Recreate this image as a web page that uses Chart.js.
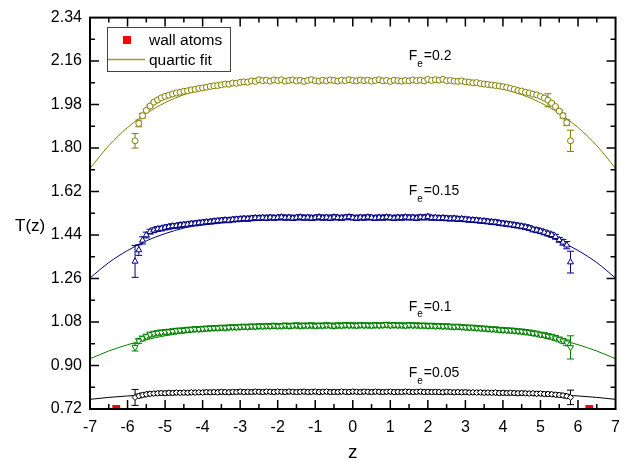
<!DOCTYPE html>
<html><head><meta charset="utf-8">
<script src="https://cdn.jsdelivr.net/npm/chart.js@4.4.1/dist/chart.umd.min.js"></script>
<style>html,body{margin:0;padding:0;background:#fff;}canvas{display:block;}</style>
</head><body>
<canvas id="c" width="629" height="461"></canvas>
<script>
// ---------- data ----------
const zGrid = [
-5.8,-5.7,-5.6,-5.5,-5.4,-5.3,-5.2,-5.1,-5.0,-4.9,
-4.8,-4.7,-4.6,-4.5,-4.4,-4.3,-4.2,-4.1,-4.0,-3.9,
-3.8,-3.7,-3.6,-3.5,-3.4,-3.3,-3.2,-3.1,-3.0,-2.9,
-2.8,-2.7,-2.6,-2.5,-2.4,-2.3,-2.2,-2.1,-2.0,-1.9,
-1.8,-1.7,-1.6,-1.5,-1.4,-1.3,-1.2,-1.1,-1.0,-0.9,
-0.8,-0.7,-0.6,-0.5,-0.4,-0.3,-0.2,-0.1,0.0,0.1,
0.2,0.3,0.4,0.5,0.6,0.7,0.8,0.9,1.0,1.1,
1.2,1.3,1.4,1.5,1.6,1.7,1.8,1.9,2.0,2.1,
2.2,2.3,2.4,2.5,2.6,2.7,2.8,2.9,3.0,3.1,
3.2,3.3,3.4,3.5,3.6,3.7,3.8,3.9,4.0,4.1,
4.2,4.3,4.4,4.5,4.6,4.7,4.8,4.9,5.0,5.1,
5.2,5.3,5.4,5.5,5.6,5.7,5.8];

const T_Fe020 = [
1.830,1.902,1.934,1.956,1.974,1.990,1.999,2.008,2.014,2.019,
2.024,2.028,2.031,2.035,2.037,2.041,2.043,2.047,2.049,2.052,
2.055,2.058,2.059,2.062,2.065,2.064,2.069,2.068,2.072,2.074,
2.073,2.078,2.076,2.083,2.079,2.081,2.077,2.082,2.079,2.083,
2.077,2.080,2.082,2.078,2.081,2.076,2.080,2.083,2.079,2.077,
2.081,2.078,2.082,2.080,2.077,2.081,2.079,2.083,2.080,2.078,
2.082,2.079,2.081,2.077,2.080,2.083,2.078,2.080,2.076,2.081,
2.079,2.077,2.080,2.078,2.082,2.079,2.081,2.078,2.084,2.080,
2.083,2.081,2.085,2.079,2.080,2.077,2.076,2.078,2.074,2.073,
2.070,2.071,2.067,2.065,2.063,2.061,2.059,2.057,2.054,2.051,
2.047,2.043,2.038,2.036,2.031,2.028,2.023,2.020,2.014,2.007,
1.998,1.986,1.972,1.953,1.934,1.905,1.830];

const T_Fe015 = [
1.331,1.378,1.418,1.440,1.454,1.460,1.465,1.467,1.471,1.474,
1.477,1.478,1.481,1.483,1.484,1.487,1.488,1.490,1.492,1.494,
1.495,1.497,1.499,1.500,1.502,1.501,1.504,1.505,1.506,1.508,
1.507,1.509,1.511,1.510,1.512,1.510,1.513,1.511,1.512,1.514,
1.511,1.513,1.510,1.512,1.514,1.511,1.513,1.510,1.512,1.514,
1.511,1.513,1.510,1.514,1.512,1.511,1.513,1.515,1.512,1.510,
1.513,1.511,1.514,1.512,1.510,1.513,1.511,1.514,1.512,1.510,
1.513,1.511,1.514,1.512,1.513,1.510,1.514,1.512,1.516,1.511,
1.512,1.510,1.511,1.509,1.508,1.509,1.506,1.507,1.505,1.503,
1.502,1.501,1.499,1.498,1.496,1.494,1.493,1.490,1.488,1.486,
1.484,1.481,1.479,1.476,1.473,1.469,1.463,1.460,1.456,1.451,
1.446,1.441,1.433,1.420,1.410,1.398,1.328];

const T_Fe010 = [
0.975,1.002,1.012,1.020,1.028,1.032,1.035,1.037,1.039,1.040,
1.042,1.044,1.045,1.046,1.048,1.049,1.051,1.050,1.052,1.053,
1.054,1.055,1.055,1.057,1.056,1.058,1.059,1.058,1.060,1.061,
1.060,1.062,1.061,1.063,1.062,1.064,1.063,1.065,1.063,1.064,
1.066,1.064,1.065,1.067,1.064,1.066,1.065,1.067,1.064,1.066,
1.065,1.067,1.066,1.064,1.067,1.065,1.068,1.066,1.067,1.065,
1.068,1.066,1.067,1.065,1.068,1.066,1.067,1.069,1.066,1.068,
1.066,1.067,1.065,1.068,1.066,1.067,1.065,1.066,1.064,1.065,
1.063,1.064,1.062,1.063,1.061,1.060,1.061,1.059,1.058,1.057,
1.057,1.055,1.054,1.053,1.052,1.050,1.050,1.048,1.047,1.046,
1.045,1.044,1.042,1.041,1.039,1.037,1.034,1.032,1.028,1.026,
1.022,1.019,1.014,1.008,1.002,0.994,0.975];

const T_Fe005 = [
0.768,0.774,0.778,0.781,0.783,0.784,0.785,0.786,0.785,0.787,
0.786,0.788,0.787,0.788,0.787,0.789,0.788,0.789,0.788,0.790,
0.789,0.790,0.789,0.791,0.790,0.789,0.791,0.790,0.792,0.790,
0.791,0.790,0.792,0.791,0.790,0.792,0.791,0.790,0.792,0.791,
0.790,0.792,0.791,0.790,0.791,0.792,0.790,0.791,0.792,0.790,
0.791,0.792,0.790,0.791,0.790,0.792,0.791,0.790,0.792,0.791,
0.790,0.792,0.791,0.790,0.792,0.791,0.790,0.791,0.792,0.790,
0.791,0.790,0.792,0.791,0.790,0.791,0.792,0.790,0.791,0.790,
0.791,0.790,0.789,0.791,0.790,0.789,0.790,0.789,0.790,0.788,
0.789,0.788,0.789,0.787,0.788,0.787,0.788,0.786,0.787,0.786,
0.787,0.786,0.785,0.786,0.785,0.784,0.785,0.783,0.784,0.782,
0.782,0.781,0.779,0.778,0.776,0.773,0.768];

// error bars: typical size, plus larger ones near the walls
const errBase = [0.004, 0.010, 0.010, 0.008];
const errZ_Fe020 = [-5.8,-5.7,-5.6,5.2,5.6,5.7,5.8];
const errV_Fe020 = [0.030,0.014,0.010,0.027,0.010,0.012,0.044];
const errZ_Fe015 = [-5.8,-5.7,-5.6,-5.5,5.6,5.7,5.8];
const errV_Fe015 = [0.066,0.022,0.015,0.012,0.012,0.015,0.045];
const errZ_Fe010 = [-5.8,-5.7,5.7,5.8];
const errV_Fe010 = [0.015,0.010,0.012,0.048];
const errZ_Fe005 = [-5.8,5.8];
const errV_Fe005 = [0.033,0.030];

// quartic fits
const fitZ = [-7,-6.5,-6,-5.5,-5,-4.5,-4,-3.5,-3,-2.5,-2,-1.5,-1,-0.5,0,0.5,1,1.5,2,2.5,3,3.5,4,4.5,5,5.5,6,6.5,7];
const fit_Fe020 = [1.716,1.810,1.885,1.943,1.988,2.021,2.045,2.061,2.072,2.079,2.082,2.084,2.085,2.085,2.085,2.085,2.085,2.084,2.082,2.079,2.072,2.061,2.045,2.021,1.988,1.943,1.885,1.810,1.716];
const fit_Fe015 = [1.262,1.326,1.376,1.416,1.446,1.469,1.486,1.497,1.505,1.510,1.512,1.514,1.515,1.515,1.515,1.515,1.515,1.514,1.512,1.510,1.505,1.497,1.486,1.469,1.446,1.416,1.376,1.326,1.262];
const fit_Fe010 = [0.928,0.960,0.986,1.007,1.023,1.035,1.045,1.052,1.057,1.061,1.063,1.064,1.065,1.066,1.066,1.066,1.065,1.064,1.063,1.061,1.057,1.052,1.045,1.035,1.023,1.007,0.986,0.960,0.928];
const fit_Fe005 = [0.760,0.768,0.774,0.779,0.782,0.785,0.787,0.788,0.789,0.790,0.790,0.790,0.790,0.790,0.790,0.790,0.790,0.790,0.790,0.790,0.789,0.788,0.787,0.785,0.782,0.779,0.774,0.768,0.760];

// wall atoms
const wallZ = [-6.3, 6.3];
const wallT = [0.72, 0.72];

// ticks and labels
const xTicks = [-7,-6,-5,-4,-3,-2,-1,0,1,2,3,4,5,6,7];
const yTicks = [0.72,0.90,1.08,1.26,1.44,1.62,1.80,1.98,2.16,2.34];
const seriesLabels = ['=0.2','=0.15','=0.1','=0.05'];
const labelZ = [1.49,1.49,1.49,1.49];
const labelT = [2.163,1.604,1.126,0.852];
const colors = ['#808000','#000080','#008000','#000000'];

// ---------- chart ----------
const FONT = '"Liberation Sans", Arial, Helvetica, sans-serif';
Chart.defaults.font.family = FONT;
Chart.defaults.color = '#000';

const pts = (xs, ys) => xs.map((x,i)=>({x:x, y:ys[i]}));

function dataSet(T, color, style, radius, rot, ez, ev, eb){
  return {type:'scatter', data:pts(zGrid,T), showLine:false, borderColor:color, backgroundColor:'#fff',
    pointStyle:style, pointRadius:radius, pointRotation:rot, pointBorderWidth:1, order:5,
    errInfo:{z:ez, v:ev, base:eb}};
}
function fitSet(F, color){
  return {type:'scatter', data:pts(fitZ,F), showLine:true, borderColor:color, borderWidth:1,
    pointRadius:0, cubicInterpolationMode:'monotone', order:10};
}

const custom = {
  id:'custom',
  beforeDatasetsDraw(chart){
    const ctx=chart.ctx, xs=chart.scales.x, ys=chart.scales.y;
    ctx.save();
    chart.data.datasets.forEach(ds=>{
      if(!ds.errInfo) return;
      ctx.strokeStyle=ds.borderColor; ctx.lineWidth=1;
      ds.data.forEach(p=>{
        let e=ds.errInfo.base;
        const k=ds.errInfo.z.indexOf(p.x);
        if(k>=0) e=ds.errInfo.v[k];
        const x=xs.getPixelForValue(p.x);
        const y1=ys.getPixelForValue(p.y+e), y2=ys.getPixelForValue(p.y-e);
        ctx.beginPath();
        ctx.moveTo(x,y1);ctx.lineTo(x,y2);
        ctx.moveTo(x-3.5,y1);ctx.lineTo(x+3.5,y1);
        ctx.moveTo(x-3.5,y2);ctx.lineTo(x+3.5,y2);
        ctx.stroke();
      });
    });
    ctx.restore();
  },
  afterDraw(chart){
    const ctx=chart.ctx, xs=chart.scales.x, ys=chart.scales.y;
    const {left,right,top,bottom}=chart.chartArea;
    ctx.save();
    // frame
    ctx.strokeStyle='#000'; ctx.lineWidth=2;
    ctx.strokeRect(left,top,right-left,bottom-top);
    // ticks (inward, mirrored)
    ctx.lineWidth=1.5;
    const xv=xs.ticks.map(t=>t.value), yv=ys.ticks.map(t=>t.value);
    ctx.beginPath();
    xv.forEach((v,i)=>{
      const px=xs.getPixelForValue(v);
      if(i>0&&i<xv.length-1){ctx.moveTo(px,bottom);ctx.lineTo(px,bottom-9);ctx.moveTo(px,top);ctx.lineTo(px,top+9);}
      if(i<xv.length-1){const m=xs.getPixelForValue((v+xv[i+1])/2);ctx.moveTo(m,bottom);ctx.lineTo(m,bottom-5);ctx.moveTo(m,top);ctx.lineTo(m,top+5);}
    });
    yv.forEach((v,i)=>{
      const py=ys.getPixelForValue(v);
      if(i>0&&i<yv.length-1){ctx.moveTo(left,py);ctx.lineTo(left+9,py);ctx.moveTo(right,py);ctx.lineTo(right-9,py);}
      if(i<yv.length-1){const m=ys.getPixelForValue((v+yv[i+1])/2);ctx.moveTo(left,m);ctx.lineTo(left+5,m);ctx.moveTo(right,m);ctx.lineTo(right-5,m);}
    });
    ctx.stroke();
    // axis titles
    ctx.fillStyle='#000';
    ctx.textBaseline='alphabetic';
    ctx.font='17px '+FONT; ctx.textAlign='left';
    ctx.fillText('T(z)',15,231);
    ctx.font='19px '+FONT; ctx.textAlign='center';
    ctx.fillText('z',(left+right)/2,458);
    // series labels F_e=...
    ctx.textAlign='left';
    seriesLabels.forEach((s,i)=>{
      let x=xs.getPixelForValue(labelZ[i]); const y=ys.getPixelForValue(labelT[i]);
      ctx.font='14px '+FONT; ctx.fillText('F',x,y); x+=ctx.measureText('F').width;
      ctx.font='10px '+FONT; ctx.fillText('e',x,y+6.5); x+=ctx.measureText('e').width+1;
      ctx.font='14px '+FONT; ctx.fillText(s,x,y);
    });
    // legend
    ctx.fillStyle='#fff'; ctx.fillRect(107,27,123,44);
    ctx.strokeStyle='#444'; ctx.lineWidth=1; ctx.strokeRect(107.5,27.5,123,44);
    ctx.fillStyle='#ff0000'; ctx.fillRect(123,36,8,8);
    ctx.strokeStyle='#9a9a3a'; ctx.lineWidth=1.5;
    ctx.beginPath(); ctx.moveTo(108,59.5); ctx.lineTo(145,59.5); ctx.stroke();
    ctx.fillStyle='#000'; ctx.font='15.5px '+FONT; ctx.textBaseline='middle';
    ctx.fillText('wall atoms',149,40.5);
    ctx.fillText('quartic fit',149,60.5);
    ctx.restore();
  }
};

new Chart(document.getElementById('c'), {
  type:'scatter',
  data:{datasets:[
    fitSet(fit_Fe020, colors[0]),
    fitSet(fit_Fe015, colors[1]),
    fitSet(fit_Fe010, colors[2]),
    fitSet(fit_Fe005, colors[3]),
    dataSet(T_Fe020, colors[0], 'circle', 3, 0, errZ_Fe020, errV_Fe020, errBase[0]),
    dataSet(T_Fe015, colors[1], 'triangle', 3.5, 0, errZ_Fe015, errV_Fe015, errBase[1]),
    dataSet(T_Fe010, colors[2], 'triangle', 3.5, 180, errZ_Fe010, errV_Fe010, errBase[2]),
    dataSet(T_Fe005, colors[3], 'rectRot', 3, 0, errZ_Fe005, errV_Fe005, errBase[3]),
    {type:'scatter', data:pts(wallZ,wallT), pointStyle:'rect', pointRadius:5.5, backgroundColor:'#ff0000',
     borderColor:'#ff0000', pointBorderWidth:0, order:1, clip:0}
  ]},
  options:{
    responsive:false, animation:false, devicePixelRatio:1, events:[],
    layout:{padding:{top:14,right:6,left:0,bottom:0}},
    plugins:{legend:{display:false}, tooltip:{enabled:false}},
    scales:{
      x:{type:'linear', min:-7, max:7,
         afterBuildTicks:s=>{s.ticks=xTicks.map(v=>({value:v}));},
         afterFit:s=>{s.height=52;},
         grid:{display:false, drawTicks:false}, border:{display:false},
         ticks:{autoSkip:false, maxRotation:0, padding:9, font:{size:16}, color:'#000',
                callback:v=>String(v)}},
      y:{type:'linear', min:0.72, max:2.34,
         afterBuildTicks:s=>{s.ticks=yTicks.map(v=>({value:v}));},
         afterFit:s=>{s.width=90;},
         grid:{display:false, drawTicks:false}, border:{display:false},
         ticks:{autoSkip:false, padding:8, font:{size:16}, color:'#000',
                callback:v=>Number(v).toFixed(2)}}
    }
  },
  plugins:[custom]
});
</script>
</body></html>
